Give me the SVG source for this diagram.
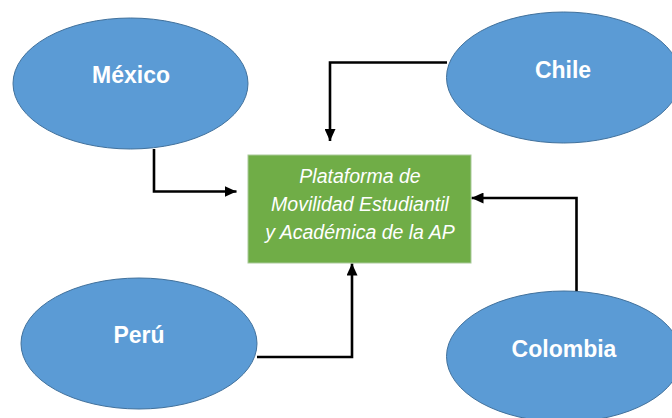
<svg xmlns="http://www.w3.org/2000/svg" width="672" height="418" viewBox="0 0 672 418">
<style>
.country{fill:#5B9BD5;stroke:#41719C;stroke-width:1}
.clabel{font-family:"Liberation Sans",Arial,sans-serif;font-weight:bold;font-size:23px;fill:#FFFFFF;text-anchor:middle}
.box{fill:#70AD47;stroke:#A9C99A;stroke-width:1}
.btext{font-family:"Liberation Sans",Arial,sans-serif;font-style:italic;font-size:19.5px;fill:#FFFFFF;text-anchor:middle}
.conn{fill:none;stroke:#000000;stroke-width:2.6;marker-end:url(#arrow)}
</style>
<defs>
<marker id="arrow" markerUnits="userSpaceOnUse" markerWidth="12" markerHeight="11" refX="12" refY="5.5" orient="auto">
<path d="M0,0 L12,5.5 L0,11 Z" fill="#000000"/>
</marker>
</defs>
<rect width="672" height="418" fill="#FFFFFF"/>
<g id="connectors">
<path class="conn" d="M154,149 V191.5 H236.5"/>
<path class="conn" d="M447,62.5 H330 V141"/>
<path class="conn" d="M257,357 H352 V263.5"/>
<path class="conn" d="M576.5,292 V198 H471.5"/>
</g>
<g id="mexico">
<ellipse class="country" cx="130.5" cy="83.5" rx="117.5" ry="65.5"/>
<text class="clabel" x="131" y="83">México</text>
</g>
<g id="chile">
<ellipse class="country" cx="563.5" cy="77.5" rx="117" ry="65.5"/>
<text class="clabel" x="563" y="78">Chile</text>
</g>
<g id="peru">
<ellipse class="country" cx="139" cy="343.5" rx="118" ry="65.5"/>
<text class="clabel" x="139" y="343">Perú</text>
</g>
<g id="colombia">
<ellipse class="country" cx="564" cy="356.5" rx="117.5" ry="65.5"/>
<text class="clabel" x="564" y="357">Colombia</text>
</g>
<g id="plataforma">
<rect class="box" x="248" y="155" width="223" height="108"/>
<text class="btext" x="360" y="182.5">Plataforma de</text>
<text class="btext" x="360" y="210.5">Movilidad Estudiantil</text>
<text class="btext" x="360" y="239">y Académica de la AP</text>
</g>
</svg>
